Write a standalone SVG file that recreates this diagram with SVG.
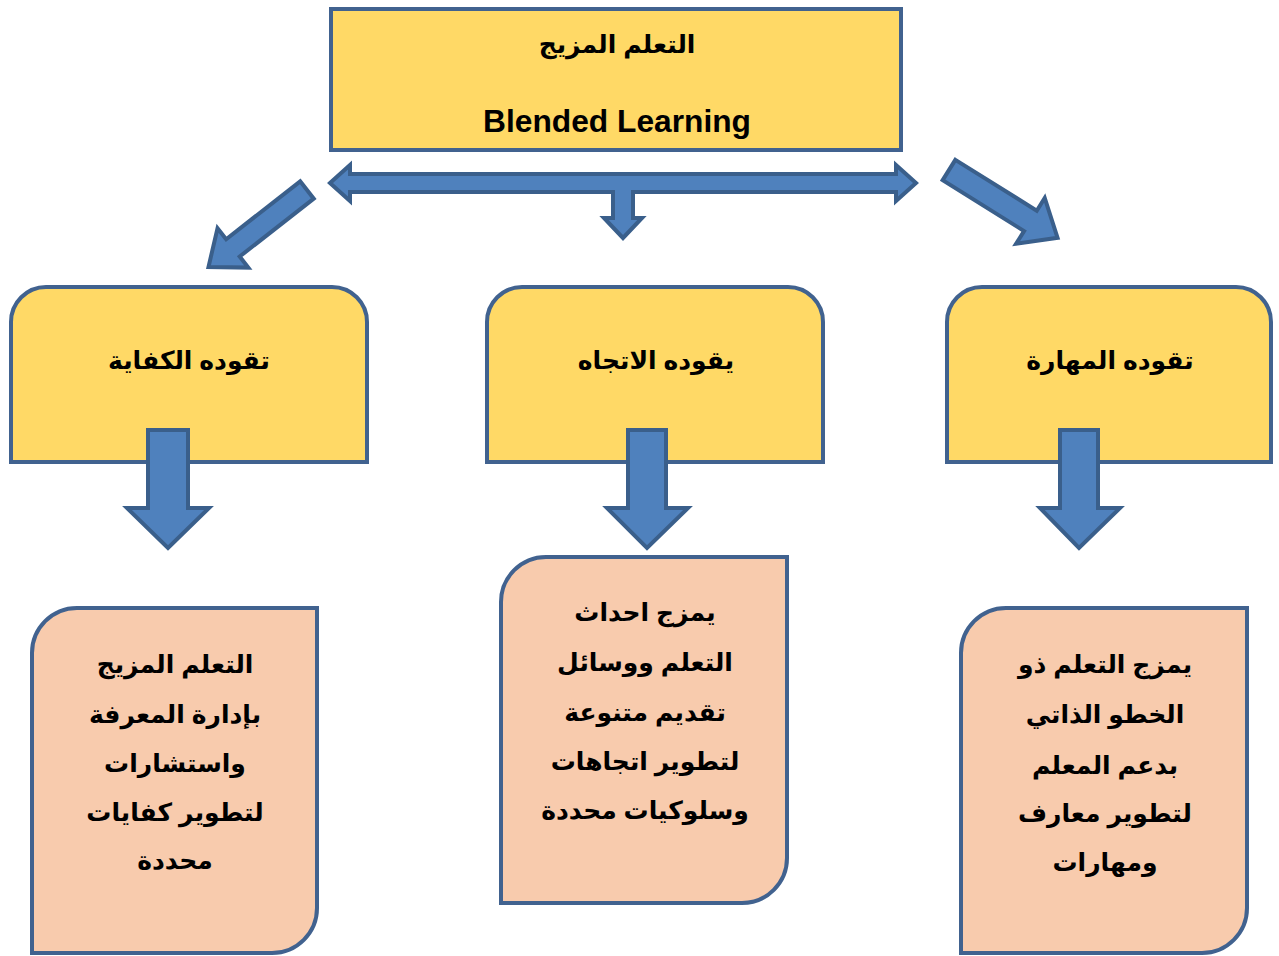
<svg xmlns="http://www.w3.org/2000/svg" width="1279" height="956" viewBox="0 0 1279 956">
<style>
.yel{fill:#FFD966;stroke:#41628F;stroke-width:4}
.pch{fill:#F8CBAD;stroke:#41628F;stroke-width:4}
.arr{fill:#4F81BD;stroke:#3A5F8B;stroke-width:4;stroke-linejoin:miter}
.ar{font-family:"Liberation Sans","DejaVu Sans",sans-serif;font-weight:bold;font-size:25px;fill:#000;text-anchor:middle}
.en{font-family:"Liberation Sans","DejaVu Sans",sans-serif;font-weight:bold;font-size:32px;fill:#000;text-anchor:middle}
</style>
<rect width="1279" height="956" fill="#fff"/>
<g id="root">
<rect class="yel" x="331" y="9" width="570" height="141"/>
<text class="ar" x="617" y="53">التعلم المزيج</text>
<text class="en" x="617" y="132" textLength="268" lengthAdjust="spacingAndGlyphs">Blended Learning</text>
</g>
<g id="competence">
<path class="yel" d="M11 462 V322 A35 35 0 0 1 46 287 H332 A35 35 0 0 1 367 322 V462 Z"/>
<text class="ar" x="189" y="369">تقوده الكفاية</text>
</g>
<g id="attitude">
<path class="yel" d="M487 462 V322 A35 35 0 0 1 522 287 H788 A35 35 0 0 1 823 322 V462 Z"/>
<text class="ar" x="656" y="369">يقوده الاتجاه</text>
</g>
<g id="skill">
<path class="yel" d="M947 462 V322 A35 35 0 0 1 982 287 H1236 A35 35 0 0 1 1271 322 V462 Z"/>
<text class="ar" x="1110" y="369">تقوده المهارة</text>
</g>
<g id="competence-desc">
<path class="pch" d="M32 953 V653 A45 45 0 0 1 77 608 H317 V908 A45 45 0 0 1 272 953 Z"/>
<text class="ar" x="175" y="673">التعلم المزيج</text>
<text class="ar" x="175" y="723">بإدارة المعرفة</text>
<text class="ar" x="175" y="772">واستشارات</text>
<text class="ar" x="175" y="821">لتطوير كفايات</text>
<text class="ar" x="175" y="869">محددة</text>
</g>
<g id="attitude-desc">
<path class="pch" d="M501 903 V602 A45 45 0 0 1 546 557 H787 V858 A45 45 0 0 1 742 903 Z"/>
<text class="ar" x="645" y="621">يمزج احداث</text>
<text class="ar" x="645" y="671">التعلم ووسائل</text>
<text class="ar" x="645" y="721">تقديم متنوعة</text>
<text class="ar" x="645" y="770">لتطوير اتجاهات</text>
<text class="ar" x="645" y="819">وسلوكيات محددة</text>
</g>
<g id="skill-desc">
<path class="pch" d="M961 953 V653 A45 45 0 0 1 1006 608 H1247 V908 A45 45 0 0 1 1202 953 Z"/>
<text class="ar" x="1105" y="673">يمزج التعلم ذو</text>
<text class="ar" x="1105" y="723">الخطو الذاتي</text>
<text class="ar" x="1105" y="774">بدعم المعلم</text>
<text class="ar" x="1105" y="822">لتطوير معارف</text>
<text class="ar" x="1105" y="871">ومهارات</text>
</g>
<g id="connectors">
<path class="arr" d="M330 183 L350 165 V174 H896 V165 L916 183 L896 201 V192 H633 V218 H642 L623 238 L604 218 H613 V192 H350 V201 Z"/>
<path class="arr" transform="translate(307,190) rotate(142)" d="M0 -11 H94 V-25 L125 0 L94 25 V11 H0 Z"/>
<path class="arr" transform="translate(949,170) rotate(32)" d="M0 -12 H96 V-27 L128 0 L96 27 V12 H0 Z"/>
<path class="arr" d="M148 430 H188 V508 H209 L168 548 L127 508 H148 Z"/>
<path class="arr" d="M628 430 H666 V508 H688 L647 548 L607 508 H628 Z"/>
<path class="arr" d="M1060 430 H1098 V508 H1120 L1079 548 L1040 508 H1060 Z"/>
</g>
</svg>
